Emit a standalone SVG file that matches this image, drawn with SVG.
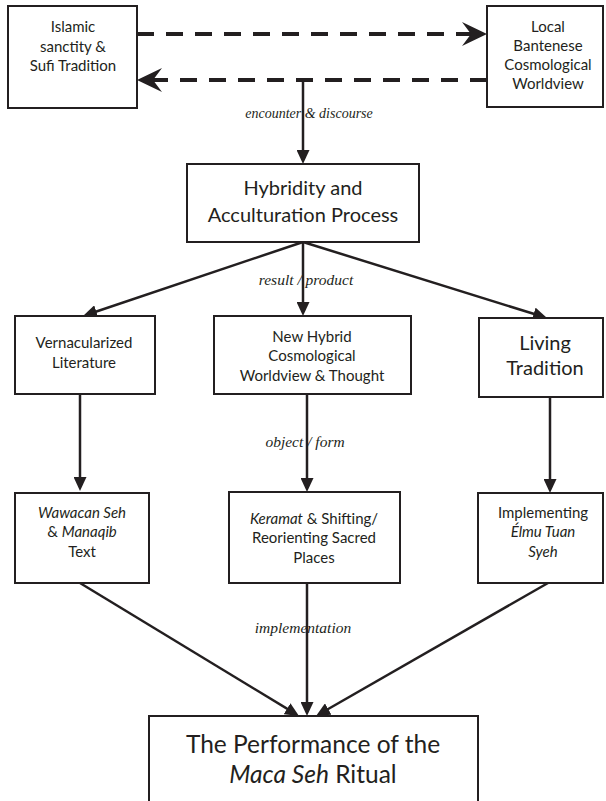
<svg xmlns="http://www.w3.org/2000/svg" width="606" height="801" viewBox="0 0 606 801">
<style>
.box{fill:#fff;stroke:#231f20;stroke-width:2}
.t{font-family:Lato,"Open Sans",sans-serif;fill:#231f20;text-anchor:middle;font-size:15px}
.t21{font-size:20px}
.t26{font-size:24.5px}
.i{font-style:italic}
.lbl{font-family:"Liberation Serif",serif;font-style:italic;font-size:15.5px;fill:#231f20;text-anchor:middle}
.dash{fill:none;stroke:#231f20;stroke-width:4;stroke-dasharray:17 12}
.ln{fill:none;stroke:#231f20;stroke-width:2.5}
</style>
<defs>
<marker id="tri" markerUnits="userSpaceOnUse" markerWidth="14" markerHeight="13" refX="10" refY="6.5" orient="auto">
<path d="M0,0 L14,6.5 L0,13 z" fill="#231f20"/>
</marker>
<marker id="barb" markerUnits="userSpaceOnUse" markerWidth="25" markerHeight="24" refX="9" refY="12" orient="auto">
<path d="M0,0 L25,12 L0,24 L9,12 z" fill="#231f20"/>
</marker>
</defs>
<g id="connectors">
<path class="dash" d="M137,34 H471" marker-end="url(#barb)"/>
<path class="dash" d="M487,80 H153" marker-end="url(#barb)"/>
<path class="ln" d="M303,80 V160" marker-end="url(#tri)"/>
<path class="ln" d="M303,242 L86.8,314.7" marker-end="url(#tri)"/>
<path class="ln" d="M303,242 V312" marker-end="url(#tri)"/>
<path class="ln" d="M303,242 L543.2,316.8" marker-end="url(#tri)"/>
<path class="ln" d="M80,394 V487" marker-end="url(#tri)"/>
<path class="ln" d="M307,394 V488" marker-end="url(#tri)"/>
<path class="ln" d="M550,397 V489" marker-end="url(#tri)"/>
<path class="ln" d="M80,583 L295.6,713.9" marker-end="url(#tri)"/>
<path class="ln" d="M307,583 V712" marker-end="url(#tri)"/>
<path class="ln" d="M548,583 L319.5,714" marker-end="url(#tri)"/>
<text class="lbl" x="309" y="118" style="font-size:14px">encounter &amp; discourse</text>
<text class="lbl" x="306" y="285">result / product</text>
<text class="lbl" x="305" y="447">object / form</text>
<text class="lbl" x="303" y="633">implementation</text>
</g>
<g id="islamic">
<rect class="box" x="8" y="6" width="129" height="102"/>
<text class="t" x="73" y="32">Islamic</text>
<text class="t" x="73" y="51.5">sanctity &amp;</text>
<text class="t" x="73" y="71">Sufi Tradition</text>
</g>
<g id="local">
<rect class="box" x="487" y="6" width="116" height="101"/>
<text class="t" x="548" y="32">Local</text>
<text class="t" x="548" y="51">Bantenese</text>
<text class="t" x="548" y="70">Cosmological</text>
<text class="t" x="548" y="89">Worldview</text>
</g>
<g id="hybridity">
<rect class="box" x="187" y="164" width="232" height="78"/>
<text class="t t21" x="303" y="195">Hybridity and</text>
<text class="t t21" x="303" y="222">Acculturation Process</text>
</g>
<g id="vernacular">
<rect class="box" x="15" y="316" width="140" height="78"/>
<text class="t" x="84" y="348">Vernacularized</text>
<text class="t" x="84" y="368">Literature</text>
</g>
<g id="newhybrid">
<rect class="box" x="214" y="316" width="197" height="78"/>
<text class="t" x="312" y="342">New Hybrid</text>
<text class="t" x="312" y="361">Cosmological</text>
<text class="t" x="312" y="381">Worldview &amp; Thought</text>
</g>
<g id="living">
<rect class="box" x="479" y="318" width="124" height="79"/>
<text class="t t21" x="545" y="350">Living</text>
<text class="t t21" x="545" y="375">Tradition</text>
</g>
<g id="wawacan">
<rect class="box" x="15" y="493" width="134" height="90"/>
<text class="t i" x="82" y="518">Wawacan Seh</text>
<text class="t" x="82" y="537">&amp; <tspan class="i">Manaqib</tspan></text>
<text class="t" x="82" y="557">Text</text>
</g>
<g id="keramat">
<rect class="box" x="229" y="492" width="171" height="91"/>
<text class="t" x="314" y="524"><tspan class="i">Keramat</tspan> &amp; Shifting/</text>
<text class="t" x="314" y="543">Reorienting Sacred</text>
<text class="t" x="314" y="563">Places</text>
</g>
<g id="implementing">
<rect class="box" x="478" y="493" width="125" height="90"/>
<text class="t" x="543" y="518">Implementing</text>
<text class="t i" x="543" y="537">Élmu Tuan</text>
<text class="t i" x="543" y="557">Syeh</text>
</g>
<g id="performance">
<rect class="box" x="149" y="716" width="329" height="100"/>
<text class="t t26" x="313" y="753">The Performance of the</text>
<text class="t t26" x="313" y="783"><tspan class="i">Maca Seh</tspan> Ritual</text>
</g>
</svg>
